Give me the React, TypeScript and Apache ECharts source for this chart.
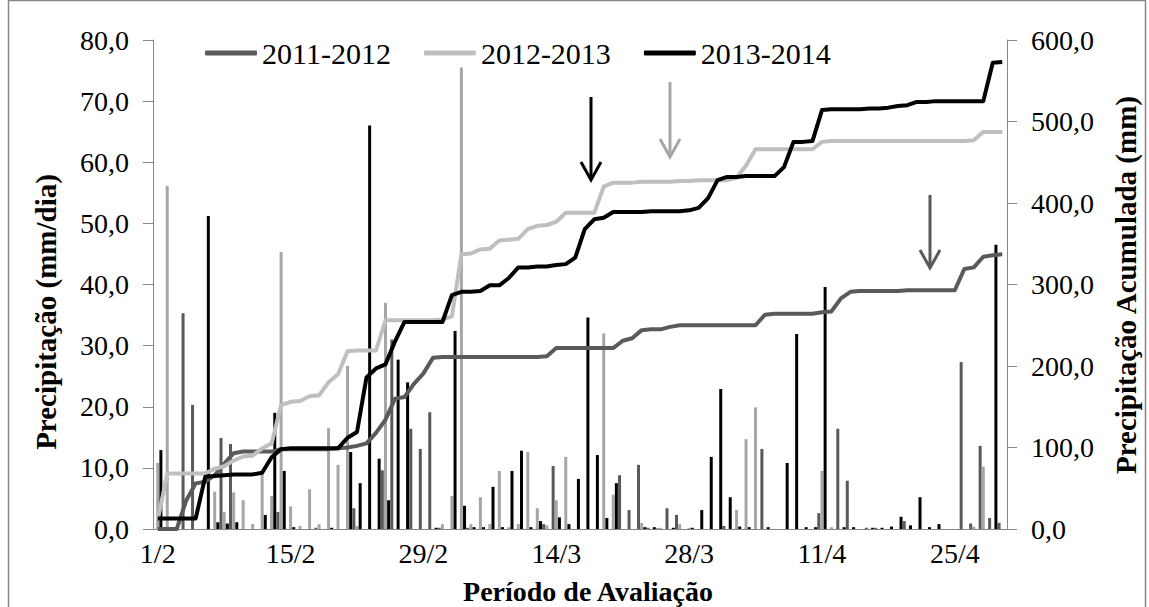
import React, { useEffect, useRef } from "react";
import * as echarts from "echarts";

const seriesNames = ["2011-2012", "2012-2013", "2013-2014"];
const barNames = ["Chuva 2011-2012", "Chuva 2012-2013", "Chuva 2013-2014"];
const monthLengths: [number, number][] = [[2, 29], [3, 31], [4, 30]];
const categories: string[] = [];
monthLengths.forEach(([m, n]) => {
  for (let d = 1; d <= n; d++) categories.push(`${d}/${m}`);
});
const tickLabels = ["1/2", "15/2", "29/2", "14/3", "28/3", "11/4", "25/4"];

// daily precipitation (mm/dia)
const daily2011 = [
  0, 0, 0, 35.3, 20.3, 0, 0, 14.9, 13.9, 0,
  0, 0, 0, 2.8, 0, 0, 0, 0.2, 0, 0,
  0, 3.4, 0, 0, 9.6, 31.0, 0, 16.4, 13.1, 19.1,
  0.2, 0, 0, 0.2, 0, 0, 0, 0, 0, 0,
  0, 0.8, 10.3, 0, 0, 0, 0, 0, 0, 8.8,
  3.1, 10.5, 0.2, 0.1, 3.4, 2.3, 0, 0, 0, 0,
  0.5, 0, 0, 0, 13.1, 0, 0, 0, 0, 0,
  2.6, 0, 16.4, 7.9, 0, 0.2, 0.2, 0, 0, 1.3,
  0, 0, 0, 0, 0, 27.3, 0.9, 13.6, 1.8, 1.0,
];
const daily2012 = [
  10.8, 56.1, 0, 0, 0, 0, 6.1, 2.8, 6.0, 4.7,
  0.8, 9.3, 5.4, 45.3, 3.7, 0.5, 6.5, 0.8, 16.5, 10.5,
  26.7, 0.5, 0, 0, 37.0, 0, 0, 0, 0, 0,
  0.8, 5.4, 75.5, 0.8, 5.2, 0.8, 9.5, 0.3, 0.8, 12.6,
  3.4, 0.6, 4.7, 11.8, 0, 0, 0, 32.0, 5.6, 0,
  0, 1.0, 0, 0.2, 0, 0.8, 0.2, 0, 0, 0,
  0, 3.1, 14.7, 19.9, 0, 0, 0, 0, 0, 0,
  9.5, 0.3, 0, 0, 0, 0, 0, 0, 0, 0,
  0, 0, 0, 0, 0, 0, 0.4, 10.2, 0, 0,
];
const daily2013 = [
  12.9, 0, 0, 0, 0, 51.2, 1.1, 0.9, 1.1, 0,
  0, 2.3, 19.0, 9.5, 0.3, 0, 0, 0, 0.2, 0,
  12.6, 7.5, 66.0, 11.5, 4.7, 27.7, 24.0, 0, 0, 0.2,
  0, 32.4, 3.8, 0.3, 0.3, 6.9, 0.3, 9.5, 12.8, 0.3,
  1.3, 0, 1.9, 0.8, 8.2, 34.6, 12.1, 1.8, 7.5, 0,
  0, 0.3, 0.3, 0, 0.2, 0, 0.2, 3.1, 11.8, 22.9,
  5.2, 0.4, 0.3, 0, 0.3, 0, 10.8, 31.9, 0.3, 0.3,
  39.6, 0, 0.3, 0.3, 0, 0.2, 0.2, 0.4, 2.0, 0.6,
  5.2, 0.3, 0.8, 0, 0, 0, 0, 0, 46.5, 0,
];

// accumulated precipitation (mm)
const cum2011 = [
  0, 0, 0, 35, 56, 58, 66, 80, 93, 95,
  95, 95, 95, 98, 98, 98, 98, 98, 98, 99,
  100, 102, 105, 118, 134, 160, 162, 178, 191, 210,
  211, 211, 211, 211, 211, 211, 211, 211, 211, 211,
  211, 212, 222, 222, 222, 222, 222, 222, 222, 231,
  234, 244, 245, 245, 248, 250, 250, 250, 250, 250,
  250, 250, 250, 250, 263, 264, 264, 264, 264, 264,
  266, 267, 283, 291, 292, 292, 292, 292, 292, 293,
  293, 293, 293, 293, 293, 319, 321, 334, 336, 337,
];
const cum2012 = [
  11, 68, 68, 68, 68, 68, 74, 77, 84, 89,
  90, 99, 105, 152, 156, 157, 163, 164, 180, 190,
  218, 219, 219, 219, 256, 256, 256, 256, 256, 256,
  257, 261, 337, 338, 343, 344, 354, 355, 356, 368,
  372, 373, 377, 388, 388, 388, 388, 420, 425, 425,
  425, 426, 426, 426, 426, 427, 427, 428, 428, 428,
  428, 431, 446, 466, 466, 466, 466, 466, 466, 466,
  475, 476, 476, 476, 476, 476, 476, 476, 476, 476,
  476, 476, 476, 476, 476, 476, 477, 487, 487, 487,
];
const cum2013 = [
  13, 13, 13, 13, 13, 64, 65, 66, 67, 67,
  67, 69, 88, 98, 99, 99, 99, 99, 99, 99,
  112, 119, 186, 197, 202, 230, 254, 254, 254, 254,
  254, 287, 291, 291, 292, 299, 299, 308, 321, 321,
  322, 322, 324, 325, 333, 368, 380, 382, 389, 389,
  389, 389, 390, 390, 390, 390, 391, 394, 406, 428,
  432, 432, 433, 433, 433, 433, 444, 475, 475, 476,
  514, 515, 515, 515, 515, 516, 516, 517, 519, 520,
  524, 524, 525, 525, 525, 525, 525, 525, 572, 573,
];

const barColors = ["#595959", "#a6a6a6", "#000000"];
const lineColors = ["#5a5a5a", "#bfbfbf", "#000000"];
const FONT = "'Liberation Serif', 'Times New Roman', serif";
const AXIS = "#868686";
const fmt = (v: number) => v.toFixed(1).replace(".", ",");

export default function App() {
  const ref = useRef<HTMLDivElement>(null);
  useEffect(() => {
    if (!ref.current) return;
    const chart = echarts.init(ref.current, undefined, { renderer: "svg" });
    const dailies = [daily2011, daily2012, daily2013];
    const cums = [cum2011, cum2012, cum2013];
    const bars = dailies.map((d, i) => ({
      type: "bar",
      name: barNames[i],
      data: d,
      yAxisIndex: 0,
      barWidth: 3,
      barGap: "5%",
      itemStyle: { color: barColors[i] },
      z: 2,
    }));
    const lines = cums.map((c, i) => ({
      type: "line",
      name: seriesNames[i],
      data: c,
      yAxisIndex: 1,
      symbol: "none",
      showSymbol: false,
      lineStyle: { width: 4, color: lineColors[i], join: "round" },
      itemStyle: { color: lineColors[i] },
      z: 3,
    }));
    const arrow = (x: number, y1: number, y2: number, color: string) => [
      {
        type: "line",
        shape: { x1: x, y1, x2: x, y2: y2 - 1 },
        style: { stroke: color, lineWidth: 3 },
      },
      {
        type: "polyline",
        shape: { points: [[x - 10, y2 - 18], [x, y2], [x + 10, y2 - 18]] },
        style: { stroke: color, lineWidth: 3, fill: null },
      },
    ];
    chart.setOption({
      animation: false,
      backgroundColor: "#ffffff",
      grid: { left: 153, right: 142, top: 40, bottom: 78 },
      legend: {
        data: seriesNames,
        left: 205,
        top: 38,
        padding: 0,
        icon: "roundRect",
        itemWidth: 52,
        itemHeight: 5,
        itemGap: 33,
        textStyle: { fontFamily: FONT, fontSize: 30, color: "#000" },
      },
      xAxis: {
        type: "category",
        data: categories,
        boundaryGap: true,
        axisLine: { lineStyle: { color: AXIS, width: 1 } },
        axisTick: { interval: 13, length: 9, lineStyle: { color: AXIS } },
        axisLabel: {
          interval: 13,
          color: "#000",
          fontFamily: FONT,
          fontSize: 28,
          margin: 10,
          formatter: (v: string) => (tickLabels.includes(v) ? v : ""),
        },
        splitLine: { show: false },
      },
      yAxis: [
        {
          type: "value",
          min: 0,
          max: 80,
          interval: 10,
          position: "left",
          axisLine: { show: true, lineStyle: { color: AXIS } },
          axisTick: { show: true, length: 10, lineStyle: { color: AXIS } },
          axisLabel: { color: "#000", fontFamily: FONT, fontSize: 28, margin: 24, formatter: fmt },
          splitLine: { show: false },
        },
        {
          type: "value",
          min: 0,
          max: 600,
          interval: 100,
          position: "right",
          axisLine: { show: true, lineStyle: { color: AXIS } },
          axisTick: { show: true, length: 10, lineStyle: { color: AXIS } },
          axisLabel: { color: "#000", fontFamily: FONT, fontSize: 28, margin: 24, formatter: fmt },
          splitLine: { show: false },
        },
      ],
      series: [...bars, ...lines],
      graphic: [
        {
          type: "rect",
          shape: { x: 8.5, y: 0.5, width: 1137, height: 650 },
          style: { stroke: AXIS, lineWidth: 1.5, fill: null },
          silent: true,
        },
        {
          type: "text",
          x: 46,
          y: 312,
          rotation: Math.PI / 2,
          style: {
            text: "Precipitação (mm/dia)",
            fontFamily: FONT,
            fontSize: 29,
            fontWeight: "bold",
            fill: "#000",
            align: "center",
            verticalAlign: "middle",
          },
        },
        {
          type: "text",
          x: 1126,
          y: 285,
          rotation: Math.PI / 2,
          style: {
            text: "Precipitação Acumulada (mm)",
            fontFamily: FONT,
            fontSize: 29,
            fontWeight: "bold",
            fill: "#000",
            align: "center",
            verticalAlign: "middle",
          },
        },
        {
          type: "text",
          x: 588,
          y: 591,
          style: {
            text: "Período de Avaliação",
            fontFamily: FONT,
            fontSize: 28,
            fontWeight: "bold",
            fill: "#000",
            align: "center",
            verticalAlign: "middle",
          },
        },
        ...arrow(591, 97, 180, "#000000"),
        ...arrow(670, 82, 157, "#a6a6a6"),
        ...arrow(930, 195, 268, "#595959"),
      ],
    });
    return () => chart.dispose();
  }, []);
  return (
    <div
      ref={ref}
      style={{ position: "fixed", left: 0, top: 0, width: 1149, height: 607, background: "#fff" }}
    />
  );
}
